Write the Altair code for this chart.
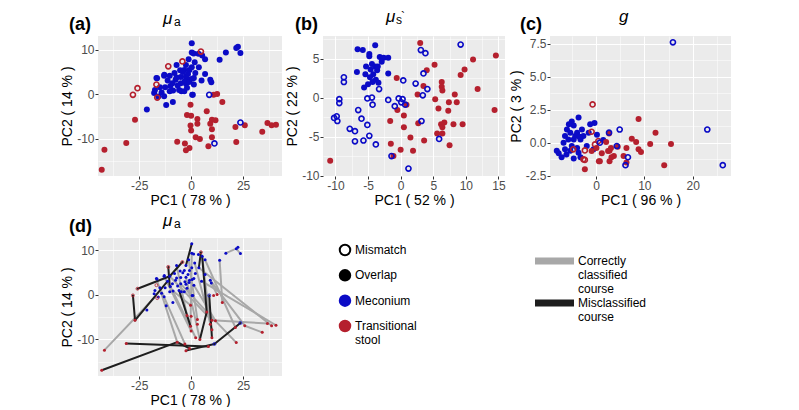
import altair as alt
import pandas as pd

BLUE = "#0B0BC6"
RED = "#B5202E"
FONT = "Liberation Sans"

# ---------------- Panel (a) and (d): mu_a ----------------
a_meco_x = [0.3, 0.3, 16.7, 22.5, 23.7, 21.7, 13.7, 6.7, 5.3, -1.2, -2.5, -7.0, 3.7, 1.7, -3.3, -0.8, 0.3,
            -5.3, -8.0, -10.3, -13.0, -16.7, -11.3, -7.5, -5.0, -2.5, -0.8, 1.3, 6.7, 9.2, 9.7, 5.0, -5.0,
            -2.5, 1.3, -10.0, -12.5, -15.0, -8.7, -4.7, -3.3, -5.8, -10.3, -17.8, -14.2, -13.0, 0.5, -8.8,
            -12.0, -21.3, -3.0, -1.0, 0.5, -6.5, -9.0, -4.0, 2.0, -2.0, -7.0, -1.5, 1.2, 3.5, -16.4, -12.9,
            0.8, -17.4, -15.8]
a_meco_y = [11.5, 9.4, 9.4, 10.7, 9.3, 10.4, 7.8, 7.9, 8.7, 7.9, 6.6, 6.6, 6.1, 7.2, 5.5, 5.5, 6.1,
            5.4, 4.8, 4.2, 4.2, 3.7, 3.1, 3.3, 3.9, 4.0, 3.3, 3.7, 4.6, 3.3, 2.7, 3.1, 2.5,
            2.4, 2.2, 1.9, 1.6, 1.6, 0.9, 0.7, 0.7, 1.0, 0.7, 0.3, 0.4, -0.4, -0.1, -1.7,
            -2.4, -3.4, 3.0, 2.8, 3.5, 2.0, 2.5, 5.0, 4.8, 1.5, 3.8, 4.6, 9.2, 9.1, 3.6, 4.4,
            -0.1, 1.0, -0.45]
a_trans_x = [10.8, 12.5, 15.0, -0.3, 7.5, -2.0, 0.0, 3.0, -27.0, 10.0, 11.7, -0.3, 3.0, 9.2, 0.0, 10.0,
             21.3, 25.8, 36.7, 38.7, 40.8, 34.2, 2.2, 4.2, -6.7, -3.0, -0.8, -2.5, 10.0, 8.3, 21.7,
             -31.2, -41.7, -43.0]
a_trans_y = [-0.1, 0.1, -1.7, -2.3, -3.8, -4.6, -4.8, -5.5, -5.7, -5.7, -5.8, -7.0, -6.6, -6.6, -8.1, -7.8,
             -7.3, -6.9, -6.4, -6.9, -6.8, -8.4, -9.6, -10.0, -10.6, -11.0, -12.0, -12.5, -9.6, -11.6, -10.7,
             -10.9, -12.4, -16.9]
a_meco_mis_x = [8.7, 23.7, 11.2]
a_meco_mis_y = [-0.1, -6.3, -11.0]
a_trans_mis_x = [4.7, -4.2, -11.0, -25.8, -28.0, -16.7, -16.3]
a_trans_mis_y = [9.6, 7.4, 6.3, 1.4, -0.1, 2.2, -0.7]

# courses drawn in panel (d)
seg_x1 = [-41.7, 13.7, 16.7, 21.7, 34.2, 10.0, 21.7, 9.2, 6.7, -5.0, -13.0, -10.0, -10.3, 1.3, 3.7, -1.2,
          -7.0, -16.7, 5.3, 5.0, -8.7, 1.7, -2.5, 0.3, 9.7, -15.0,
          -43.0, -31.2, -2.5, 11.2, -27.0, -27.0, -25.8, -10.3, -11.0, 0.3, 4.7, 8.7, -5.8, 7.5, -6.7, 5.3]
seg_y1 = [-12.4, 7.8, 9.4, 10.4, -8.4, -5.7, -10.7, 3.3, 7.9, 2.5, 4.2, 1.9, 4.2, 2.2, 6.1, 7.9,
          6.6, 3.7, 8.7, 3.1, 0.9, 7.2, 4.0, 9.4, 2.7, 1.6,
          -16.9, -10.9, -12.5, -11.0, -5.7, -5.7, 1.4, 4.2, 6.3, 11.5, 9.6, -0.1, 1.0, -3.8, -10.6, 8.7]
seg_x2 = [-17.5, 15.0, 21.7, 23.7, 25.8, 36.7, 7.5, 25.8, 21.3, 7.5, 0.0, 2.2, 10.0, 11.7, 38.7, 3.0,
          -2.0, -6.7, 9.2, 40.8, -0.3, 10.0, 4.2, -0.3, 12.5, -3.0,
          -6.7, 8.3, 11.2, 23.7, -28.0, -11.3, -10.3, -4.2, -10.3, -2.5, 3.7, 10.0, -0.3, 4.2, -0.8, 7.5]
seg_y2 = [-0.5, -1.7, 10.4, 9.3, -6.9, -6.4, -3.8, -6.9, -7.3, -3.8, -8.1, -9.6, -5.7, -5.8, -6.9, -5.5,
          -4.6, -10.6, -6.6, -6.8, -2.3, -7.8, -10.0, -7.0, 0.1, -11.0,
          -10.6, -11.6, -11.0, -6.3, -0.1, 3.1, 4.2, 7.4, 1.9, 6.6, 6.1, -9.6, -7.0, -10.0, -12.0, -3.8]
seg_kind = ["ok"] * 26 + ["mis"] * 16

# ---------------- Panel (b): mu_s' ----------------
b_meco_x = [-3.9, -6.6, -5.8, -4.8, -4.8, -3.2, -2.6, -1.9, -5.3, -4.4, -3.9, -4.6, -6.7, -5.4, -3.6,
            -4.2, -4.7, -3.8, -4.3, -1.9, -5.6, -5.0, -3.4, -2.9, -3.5]
b_meco_y = [6.7, 6.2, 6.1, 5.6, 5.3, 5.2, 5.1, 5.1, 4.0, 4.3, 4.0, 3.6, 3.3, 3.0, 3.5,
            3.0, 2.6, 2.3, 2.0, 3.1, 1.3, 1.7, 1.9, 4.6, 4.0]
b_meco_mis_x = [9.2, 3.1, 3.8, 3.5, 0.4, 2.3, 4.1, 3.4, -3.3, -8.7, -8.7, -9.4, -9.4, -9.8, -9.7, -10.2,
                -6.5, -6.0, -5.1, -7.8, -7.0, -4.8, -5.7, -7.0, -3.8, -5.1, -4.4, -4.3, -1.9, -0.9,
                -0.3, 0.3, 0.1, 0.7, 3.2, 5.9, -1.4, 1.2]
b_meco_mis_y = [6.8, 6.1, 5.7, 3.1, 2.2, 1.8, 1.1, 0.3, 1.1, 2.6, 2.0, -0.2, -0.7, -2.4, -3.0, -2.6,
                -1.6, -2.7, -3.5, -4.0, -4.3, -4.9, -5.5, -5.6, -6.0, -0.1, 0.0, -0.9, -0.3, -1.1,
                -0.1, -0.2, -0.6, -0.9, -3.0, -5.3, -7.5, -9.1]
b_trans_x = [3.0, 4.0, 5.2, 11.1, 14.6, 9.8, 9.2, 11.8, 14.4, -0.6, 3.5, 2.6, 6.3, 6.3, 6.4, 8.3, 5.3,
             7.4, 8.6, 5.8, 7.3, 0.9, -0.5, 0.5, -1.6, 2.7, 6.2, 6.7, 6.4, 8.1, 9.5, 5.6, 6.4, 0.5,
             1.5, 3.6, 7.5, -1.5, 0.0, 1.9, -1.1, -10.8]
b_trans_y = [7.0, 3.5, 4.2, 4.9, 5.4, 3.6, 2.9, 1.1, -1.6, 2.5, 1.5, 0.4, 2.0, 1.4, 0.9, 0.4, -0.2,
             -0.6, -0.6, -1.4, -1.7, -0.9, -1.6, -2.3, -3.0, -3.3, -3.4, -3.2, -3.8, -3.4, -3.4, -4.6,
             -4.6, -3.8, -5.1, -5.5, -6.1, -5.9, -6.7, -6.8, -7.5, -8.1]

# ---------------- Panel (c): g ----------------
c_meco_x = [-7.7, -7.1, -6.1, -6.4, -6.7, -6.4, -6.0, -5.0, -3.6, -4.6, -3.9, -5.3, -5.7, -4.6, -3.2,
            -2.9, -1.2, -0.3, 0.2, -5.0, -3.9, -3.6, -4.6, -3.2, -1.9, -2.6, -0.5, -1.5, -5.3, -4.3,
            -5.6, -3.4, -8.1, 1.5]
c_meco_y = [-0.8, -1.1, -0.9, -0.5, 0.0, 0.5, 1.0, 1.6, 1.9, 1.3, 0.76, 0.76, 0.25, 0.25, 0.25,
            1.0, 1.4, 1.5, 0.6, -0.25, -0.4, -0.76, -1.2, -1.1, -0.25, 0.5, -0.5, 0.76, -0.6, 0.5,
            1.4, 0.45, -0.6, 0.2]
c_trans_x = [8.8, 12.3, 15.5, 11.2, 7.4, 8.3, 8.8, 9.3, 14.1, 2.7, 2.8, 3.1, 2.1, 4.5, 6.3, 5.7,
             2.8, 0.6, 1.2, -2.3, 6.3, 3.7, 2.5, 3.2, 0.8, -0.9, 0.1]
c_trans_y = [1.8, 0.76, -0.1, -0.1, 0.3, 0.05, -0.5, -0.7, -1.7, 0.7, -0.6, -0.4, 0.05, -0.3, -0.4, -1.0,
             -1.4, -1.4, -0.8, -2.0, -1.5, -1.0, -0.63, -1.1, -1.4, -0.63, -0.4]
c_meco_mis_x = [15.9, 23.0, 26.2, 4.9, 2.7, 4.3, 6.6, 6.1, 0.8]
c_meco_mis_y = [7.6, 1.0, -1.7, 1.0, 0.76, -0.25, -1.1, -1.7, 0.0]
c_trans_mis_x = [-0.7, -2.3, -0.9, -4.7, -2.3, -0.2, 0.5, -2.6]
c_trans_mis_y = [2.9, -1.3, 0.83, -0.5, -0.58, -0.13, 0.13, -1.26]

# ---------------- Legend ----------------
leg_pt_items = ["Mismatch", "Overlap", "Meconium", "Transitional\nstool"]
leg_pt_fill = ["white", "black", BLUE, RED]
leg_pt_stroke = ["black", "black", BLUE, RED]
leg_ln_items = ["Correctly\nclassified\ncourse", "Misclassified\ncourse"]
leg_ln_colors = ["#A3A3A3", "#111111"]


def mk_axis(values, major, fmt, title):
    test = f"abs(datum.value % {major}) < 0.000001"
    return alt.Axis(
        values=values, title=title, grid=True, gridColor="white",
        gridWidth={"condition": {"test": test, "value": 1.1}, "value": 0.5},
        tickOpacity={"condition": {"test": test, "value": 1}, "value": 0},
        labelExpr=f"({test}) ? ((datum.value < 0 ? '-' : '') + format(abs(datum.value), '{fmt}')) : ''",
        labelFlush=False, labelOverlap=False,
    )


def df_xy(xs, ys):
    return pd.DataFrame({"x": xs, "y": ys})


def panel(groups, xdom, ydom, xvals, xmaj, xfmt, yvals, ymaj, yfmt, xtitle, ytitle,
          label, label_x, title_parts, w, h, fsize=36, osize=26, ostroke=1.6, segs=None):
    X = alt.X("x:Q", scale=alt.Scale(domain=xdom, nice=False, zero=False),
              axis=mk_axis(xvals, xmaj, xfmt, xtitle))
    Y = alt.Y("y:Q", scale=alt.Scale(domain=ydom, nice=False, zero=False),
              axis=mk_axis(yvals, ymaj, yfmt, ytitle))
    layers = []
    if segs is not None:
        layers.append(
            alt.Chart(segs).mark_rule(strokeWidth=2, strokeCap="round").encode(
                x=X, y=Y, x2="x2:Q", y2="y2:Q",
                color=alt.Color("kind:N", scale=alt.Scale(domain=["ok", "mis"],
                                                          range=["#A8A8A8", "#1E1E1E"]), legend=None)))
    for kind, xs, ys, col in groups:
        if kind == "filled":
            layers.append(alt.Chart(df_xy(xs, ys)).mark_circle(size=fsize, opacity=1, color=col)
                          .encode(x=X, y=Y))
        else:
            layers.append(alt.Chart(df_xy(xs, ys)).mark_point(shape="circle", filled=False, size=osize,
                                                                strokeWidth=ostroke, color=col, opacity=1)
                          .encode(x=X, y=Y))
    layers.append(alt.Chart(pd.DataFrame({"t": [label]})).mark_text(
        font=FONT, fontSize=18, fontWeight="bold", align="left", baseline="alphabetic", color="black")
        .encode(text="t:N", x=alt.value(label_x), y=alt.value(-6)))
    for txt, tx, ty, fs, fst in title_parts:
        layers.append(alt.Chart(pd.DataFrame({"t": [txt]})).mark_text(
            font=FONT, fontSize=fs, fontStyle=fst, align="left", baseline="alphabetic", color="black")
            .encode(text="t:N", x=alt.value(tx), y=alt.value(ty)))
    return alt.layer(*layers).properties(width=w, height=h,
                                         view=alt.ViewBackground(fill="#EBEBEB", stroke=None))


groups_a = [("filled", a_trans_x, a_trans_y, RED), ("filled", a_meco_x, a_meco_y, BLUE),
            ("open", a_trans_mis_x, a_trans_mis_y, RED), ("open", a_meco_mis_x, a_meco_mis_y, BLUE)]
mu_a = [("μ", 65, -12, 17, "italic"), ("a", 76, -10, 12, "normal")]

pa = panel(groups_a, [-44.8, 43.7], [-18.3, 13.1], [-37.5, -25, -12.5, 0, 12.5, 25, 37.5], 25, "d",
           [-15, -10, -5, 0, 5, 10], 10, "d", "PC1 ( 78 % )", "PC2 ( 14 % )",
           "(a)", -29, mu_a, 184, 140)

groups_b = [("filled", b_trans_x, b_trans_y, RED), ("filled", b_meco_x, b_meco_y, BLUE),
            ("open", b_meco_mis_x, b_meco_mis_y, BLUE)]
pb = panel(groups_b, [-11.9, 16.0], [-10.05, 7.9],
           [-10, -7.5, -5, -2.5, 0, 2.5, 5, 7.5, 10, 12.5, 15], 5, "d",
           [-10, -7.5, -5, -2.5, 0, 2.5, 5, 7.5], 5, "d", "PC1 ( 52 % )", "PC2 ( 22 % )",
           "(b)", -28, [("μ", 63, -14, 17, "italic"), ("s", 73, -12, 12, "normal"),
                        ("`", 78, -15, 12, "normal")], 182, 140)

groups_c = [("filled", c_meco_x, c_meco_y, BLUE), ("filled", c_trans_x, c_trans_y, RED),
            ("open", c_trans_mis_x, c_trans_mis_y, RED), ("open", c_meco_mis_x, c_meco_mis_y, BLUE)]
pc = panel(groups_c, [-9.5, 27.9], [-2.52, 8.08], [-5, 0, 5, 10, 15, 20, 25], 10, "d",
           [-2.5, -1.25, 0, 1.25, 2.5, 3.75, 5, 6.25, 7.5], 2.5, ".1f", "PC1 ( 96 % )", "PC2 ( 3 % )",
           "(c)", -30, [("g", 69, -14, 17, "italic")], 181, 140)

segs = pd.DataFrame({"x": seg_x1, "y": seg_y1, "x2": seg_x2, "y2": seg_y2, "kind": seg_kind})
pd_ = panel(groups_a, [-44.8, 43.7], [-18.2, 12.8], [-37.5, -25, -12.5, 0, 12.5, 25, 37.5], 25, "d",
            [-15, -10, -5, 0, 5, 10], 10, "d", "PC1 ( 78 % )", "PC2 ( 14 % )",
            "(d)", -29, mu_a, 184, 138, fsize=9, osize=9, ostroke=0.8, segs=segs)

# legend charts
lp = pd.DataFrame({"item": leg_pt_items})
ly = alt.Y("item:N", sort=leg_pt_items, axis=None,
           scale=alt.Scale(type="point", range=[12, 88], padding=0))
leg_pts = alt.layer(
    alt.Chart(lp).mark_point(shape="circle", filled=True, size=110, strokeWidth=2, opacity=1).encode(
        x=alt.value(63), y=ly,
        fill=alt.Fill("item:N", scale=alt.Scale(domain=leg_pt_items, range=leg_pt_fill), legend=None),
        stroke=alt.Stroke("item:N", scale=alt.Scale(domain=leg_pt_items, range=leg_pt_stroke), legend=None)),
    alt.Chart(lp).mark_text(font=FONT, fontSize=12, align="left", baseline="middle", lineBreak="\n",
                            color="black").encode(x=alt.value(73), y=ly, text="item:N"),
).properties(width=240, height=138, view=alt.ViewBackground(fill=None, stroke=None))

ll = pd.DataFrame({"item": leg_ln_items})
lly = alt.Y("item:N", sort=leg_ln_items, axis=None,
            scale=alt.Scale(type="point", range=[23, 65], padding=0))
leg_lns = alt.layer(
    alt.Chart(ll).mark_rule(strokeWidth=7).encode(
        x=alt.value(13), x2=alt.value(52), y=lly,
        color=alt.Color("item:N", scale=alt.Scale(domain=leg_ln_items, range=leg_ln_colors), legend=None)),
    alt.Chart(ll).mark_text(font=FONT, fontSize=12, align="left", baseline="middle", lineBreak="\n",
                            color="black").encode(x=alt.value(56), y=lly, text="item:N"),
).properties(width=130, height=138, view=alt.ViewBackground(fill=None, stroke=None))

top = alt.hconcat(pa, pb, pc, spacing=3)
bottom = alt.hconcat(pd_, leg_pts, leg_lns, spacing=0)
chart = alt.vconcat(top, bottom, spacing=5).properties(
    padding={"left": 52, "top": 0, "right": 0, "bottom": 0}
).configure_view(stroke=None).configure_axis(
    labelFont=FONT, labelFontSize=12, labelColor="#4D4D4D", titleFont=FONT, titleFontSize=14,
    titleFontWeight="normal", titleColor="black", tickColor="#333333", tickSize=3, domain=False,
).configure_axisX(labelPadding=1, titlePadding=2).configure_axisY(labelPadding=1, titlePadding=2)

chart.save("out.html", embed_options={"renderer": "svg", "actions": False})
